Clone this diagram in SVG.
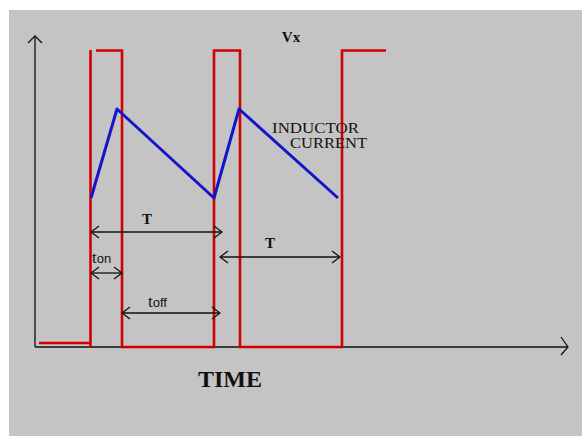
<svg xmlns="http://www.w3.org/2000/svg" width="582" height="436" viewBox="0 0 582 436">
<defs>
<style>
.ax{stroke:#111;stroke-width:1.3;fill:none}
.dim{stroke:#111;stroke-width:1.3;fill:none}
.red{stroke:#d00000;stroke-width:2.6;fill:none}
.blue{stroke:#1414cc;stroke-width:3;fill:none;stroke-linejoin:round}
.lbl{font-family:"Liberation Serif",serif;fill:#111}
.sub{font-family:"Liberation Sans",sans-serif;fill:#111}
</style>
<marker id="ah" viewBox="0 0 10 14" refX="9" refY="7" markerWidth="10" markerHeight="14" markerUnits="userSpaceOnUse" orient="auto-start-reverse">
<path d="M1,1 L9,7 L1,13" fill="none" stroke="#111" stroke-width="1.3"/>
</marker>
</defs>
<rect x="9" y="10" width="573" height="426" fill="#c4c4c4"/>
<g id="axes">
<path class="ax" d="M35,347 V36"/>
<path class="ax" d="M28,43 L35,36 L42,43"/>
<path class="ax" d="M35,347 H568"/>
<path class="ax" d="M561,337 L568,347 L561,355"/>
</g>
<g id="waveform">
<path class="red" d="M39,343 H90"/>
<path class="red" d="M90.5,348 V50"/>
<path class="red" d="M96,50.5 H122 V347 H214 V50.5 H240 V347 H342 V50.5 H386"/>
</g>
<g id="current">
<path class="blue" d="M91,198 L117,109 L214,198 L239,109 L338,198"/>
</g>
<g id="connectors">
<path class="dim" d="M91,232 H222" marker-start="url(#ah)" marker-end="url(#ah)"/>
<path class="dim" d="M220,257 H340" marker-start="url(#ah)" marker-end="url(#ah)"/>
<path class="dim" d="M91,273 H122" marker-start="url(#ah)" marker-end="url(#ah)"/>
<path class="dim" d="M122,313 H220" marker-start="url(#ah)" marker-end="url(#ah)"/>
</g>
<g id="labels">
<text class="lbl" x="291" y="42" font-size="15" font-weight="bold" text-anchor="middle">Vx</text>
<text class="lbl" x="272" y="133" font-size="14" textLength="87" lengthAdjust="spacingAndGlyphs">INDUCTOR</text>
<text class="lbl" x="290" y="148" font-size="14" textLength="77" lengthAdjust="spacingAndGlyphs">CURRENT</text>
<text class="lbl" x="147" y="224" font-size="15" font-weight="bold" text-anchor="middle">T</text>
<text class="lbl" x="270" y="248" font-size="15" font-weight="bold" text-anchor="middle">T</text>
<text class="lbl" x="92" y="263" font-size="17">t<tspan class="sub" font-size="13">on</tspan></text>
<text class="lbl" x="148" y="307" font-size="17">t<tspan class="sub" font-size="13">off</tspan></text>
<text class="lbl" x="198" y="387" font-size="24" font-weight="bold" textLength="64" lengthAdjust="spacingAndGlyphs">TIME</text>
</g>
</svg>
